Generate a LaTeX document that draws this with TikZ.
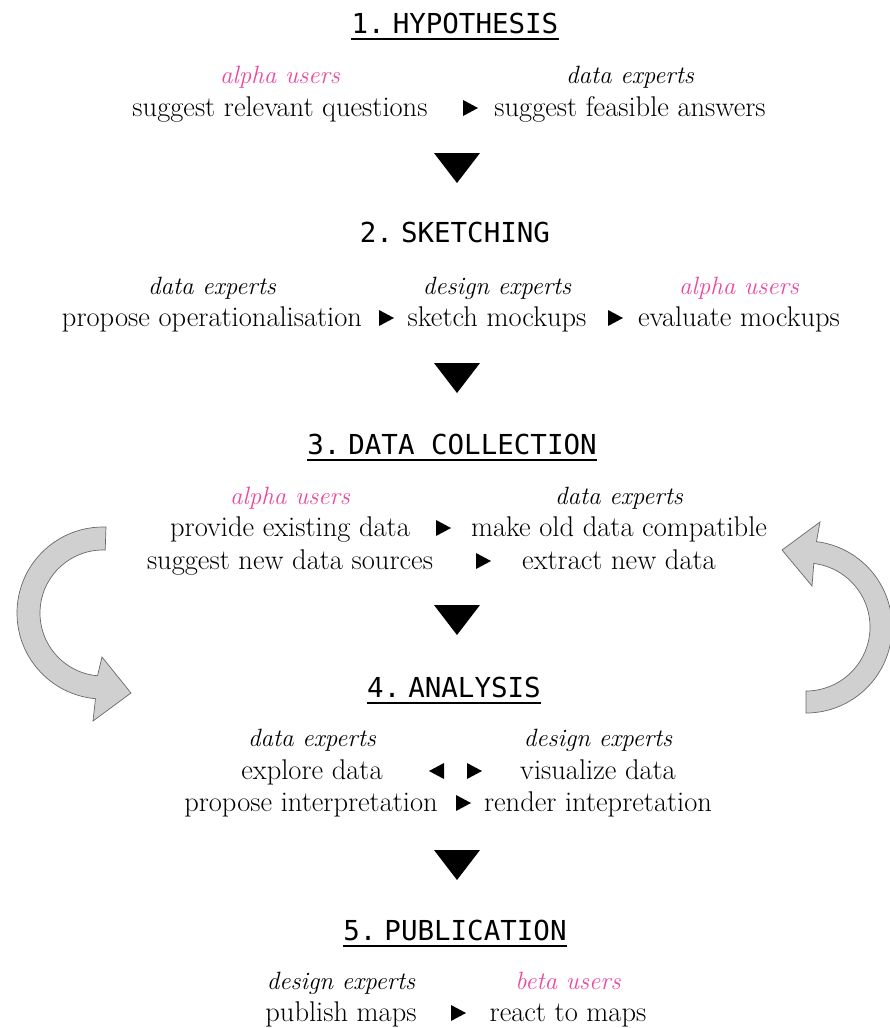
\documentclass[tikz,border=0pt]{standalone}
\usepackage{fontspec}
\newfontfamily\stagefont{DejaVu Sans Mono}
\definecolor{userpink}{RGB}{236,72,160}
\definecolor{loopgray}{RGB}{208,208,208}
\definecolor{loopline}{RGB}{105,105,105}
\tikzset{
  stage/.style={font=\stagefont\fontsize{27.5}{30}\selectfont, anchor=base, inner sep=0pt},
  role/.style={font=\itshape\fontsize{25}{28}\selectfont, anchor=base, inner sep=0pt},
  task/.style={font=\fontsize{28.5}{32}\selectfont, anchor=base, inner sep=0pt},
  uline/.style={line width=2.6pt},
  loop/.style={fill=loopgray, draw=loopline, line width=0.7pt},
}
\begin{document}
\begin{tikzpicture}[x=1pt,y=1pt]
\useasboundingbox[fill=white] (0,0) rectangle (890,-1028);

% 1. hypothesis
\node[stage] (s1) at (455,-33) {1.\kern8pt HYPOTHESIS};
\draw[uline] ([yshift=-6]s1.base west) -- ([yshift=-6]s1.base east);
\node[role, userpink] (r11) at (280,-83) {alpha users};
\node[role] (r12) at (630,-83) {data experts};
\node[task] (a11) at (280,-116) {suggest relevant questions};
\node[task] (a12) at (630,-116) {suggest feasible answers};
\fill (470,-108) +(-7,8) -- +(-7,-8) -- +(8,0) -- cycle;
\fill (457,-168) +(-23,15) -- +(23,15) -- +(0,-15) -- cycle;

% 2. sketching
\node[stage] (s2) at (455,-242) {2.\kern8pt SKETCHING};
\node[role] (r21) at (212,-294) {data experts};
\node[role] (r22) at (497,-294) {design experts};
\node[role, userpink] (r23) at (739,-294) {alpha users};
\node[task] (a21) at (212,-326) {propose operationalisation};
\node[task] (a22) at (497,-326) {sketch mockups};
\node[task] (a23) at (739,-326) {evaluate mockups};
\fill (386,-318) +(-7,8) -- +(-7,-8) -- +(8,0) -- cycle;
\fill (615,-318) +(-7,8) -- +(-7,-8) -- +(8,0) -- cycle;
\fill (457,-378) +(-23,15) -- +(23,15) -- +(0,-15) -- cycle;

% 3. data collection
\node[stage] (s3) at (452,-454) {3.\kern8pt DATA COLLECTION};
\draw[uline] ([yshift=-6]s3.base west) -- ([yshift=-6]s3.base east);
\node[role, userpink] (r31) at (290,-504) {alpha users};
\node[role] (r32) at (619,-504) {data experts};
\node[task] (a31) at (290,-536) {provide existing data};
\node[task] (a32) at (619,-536) {make old data compatible};
\node[task] (a33) at (290,-569) {suggest new data sources};
\node[task] (a34) at (619,-569) {extract new data};
\fill (443,-528) +(-7,8) -- +(-7,-8) -- +(8,0) -- cycle;
\fill (483,-561) +(-7,8) -- +(-7,-8) -- +(8,0) -- cycle;
\fill (457,-620) +(-23,15) -- +(23,15) -- +(0,-15) -- cycle;

% 4. analysis
\node[stage] (s4) at (454,-697) {4.\kern8pt ANALYSIS};
\draw[uline] ([yshift=-6]s4.base west) -- ([yshift=-6]s4.base east);
\node[role] (r41) at (312,-746) {data experts};
\node[role] (r42) at (598,-746) {design experts};
\node[task] (a41) at (312,-779) {explore data};
\node[task] (a42) at (598,-779) {visualize data};
\node[task] (a43) at (311,-811) {propose interpretation};
\node[task] (a44) at (598,-811) {render intepretation};
\fill (437,-771) +(7,8) -- +(7,-8) -- +(-8,0) -- cycle;
\fill (474,-771) +(-7,8) -- +(-7,-8) -- +(8,0) -- cycle;
\fill (463,-803) +(-7,8) -- +(-7,-8) -- +(8,0) -- cycle;
\fill (457,-865) +(-23,15) -- +(23,15) -- +(0,-15) -- cycle;

% 5. publication
\node[stage] (s5) at (455,-940) {5.\kern8pt PUBLICATION};
\draw[uline] ([yshift=-6]s5.base west) -- ([yshift=-6]s5.base east);
\node[role] (r51) at (341,-989) {design experts};
\node[role, userpink] (r52) at (568,-989) {beta users};
\node[task] (a51) at (341,-1021) {publish maps};
\node[task] (a52) at (568,-1021) {react to maps};
\fill (458,-1013) +(-7,8) -- +(-7,-8) -- +(8,0) -- cycle;

% loop arrows
\coordinate (cl) at (103,-613);
\coordinate (cr) at (806,-627);
\draw[loop] ([shift={(88:86)}]cl) arc[start angle=88, end angle=265, radius=86]
  -- (93,-721) -- (131,-693) -- (102,-657)
  -- ([shift={(265:63)}]cl) arc[start angle=265, end angle=88, radius=63] -- cycle;
\draw[loop] ([shift={(-90:86)}]cr) arc[start angle=-90, end angle=83, radius=86]
  -- (820,-522) -- (782,-550) -- (812,-586)
  -- ([shift={(83:64)}]cr) arc[start angle=83, end angle=-90, radius=64] -- cycle;
\end{tikzpicture}
\end{document}
